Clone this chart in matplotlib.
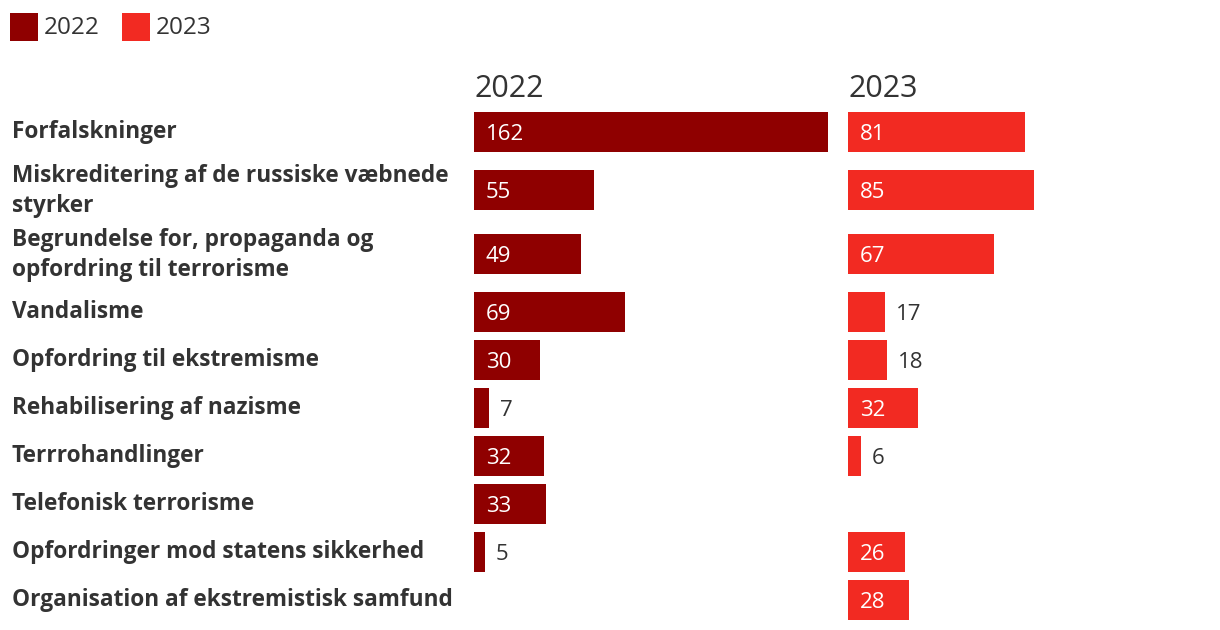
import matplotlib
matplotlib.use("Agg")
import matplotlib.pyplot as plt
from matplotlib.patches import Rectangle

plt.rcParams['font.family'] = ['Open Sans', 'DejaVu Sans']

categories = [
    "Forfalskninger",
    "Miskreditering af de russiske væbnede\nstyrker",
    "Begrundelse for, propaganda og\nopfordring til terrorisme",
    "Vandalisme",
    "Opfordring til ekstremisme",
    "Rehabilisering af nazisme",
    "Terrrohandlinger",
    "Telefonisk terrorisme",
    "Opfordringer mod statens sikkerhed",
    "Organisation af ekstremistisk samfund",
]
values_2022 = [162, 55, 49, 69, 30, 7, 32, 33, 5, None]
values_2023 = [81, 85, 67, 17, 18, 32, 6, None, 26, 28]
series_names = ["2022", "2023"]

COL_2022 = "#8f0000"
COL_2023 = "#f22a22"
TEXT = "#333333"

W, H = 1220, 630
fig = plt.figure(figsize=(W / 100, H / 100), dpi=100)

# layout: row centers (pixel units from top)
lines = [c.count("\n") + 1 for c in categories]
centers = [132]
for i in range(1, len(categories)):
    a, b = lines[i - 1] - 1, lines[i] - 1
    centers.append(centers[-1] + 48 + 10 * a + 10 * b - 4 * a * b)
bar_h = 40

xmax = 162
panel_w = 354
for left, vals, col, name in [(474, values_2022, COL_2022, series_names[0]),
                              (848, values_2023, COL_2023, series_names[1])]:
    ax = fig.add_axes([left / W, 0, panel_w / W, 1])
    ax.set_xlim(0, xmax)
    ax.set_ylim(H, 0)
    ax.axis("off")
    ys = [c for c, v in zip(centers, vals) if v is not None]
    vs = [v for v in vals if v is not None]
    ax.barh(ys, vs, height=bar_h, color=col, linewidth=0)
    for y, v in zip(ys, vs):
        if v >= 20:
            ax.annotate(str(v), (0, y), xytext=(8.6, -5.6), textcoords="offset points",
                        color="white", fontsize=16, va="baseline", ha="left")
        else:
            ax.annotate(str(v), (v, y), xytext=(7.6, -5.6), textcoords="offset points",
                        color=TEXT, fontsize=16, va="baseline", ha="left")
    ax.text(0, 97, name, fontsize=22, color=TEXT, ha="left", va="baseline")

# category labels + legend (pixel layout axis)
lab_ax = fig.add_axes([0, 0, 1, 1])
lab_ax.set_xlim(0, W)
lab_ax.set_ylim(H, 0)
lab_ax.axis("off")
for c, y in zip(categories, centers):
    parts = c.split("\n")
    n = len(parts)
    for k, part in enumerate(parts):
        lab_ax.text(12, y + 6.5 - 15 * (n - 1) + 30 * k, part, fontsize=16.3,
                    fontweight="bold", color=TEXT, ha="left", va="baseline")

for x0, col, name in [(10, COL_2022, series_names[0]), (122, COL_2023, series_names[1])]:
    lab_ax.add_patch(Rectangle((x0, 13), 28, 28, facecolor=col, edgecolor="none"))
    lab_ax.text(x0 + 34, 34.5, name, fontsize=17.5, color=TEXT, ha="left", va="baseline")

fig.savefig("out.png", dpi=100)
